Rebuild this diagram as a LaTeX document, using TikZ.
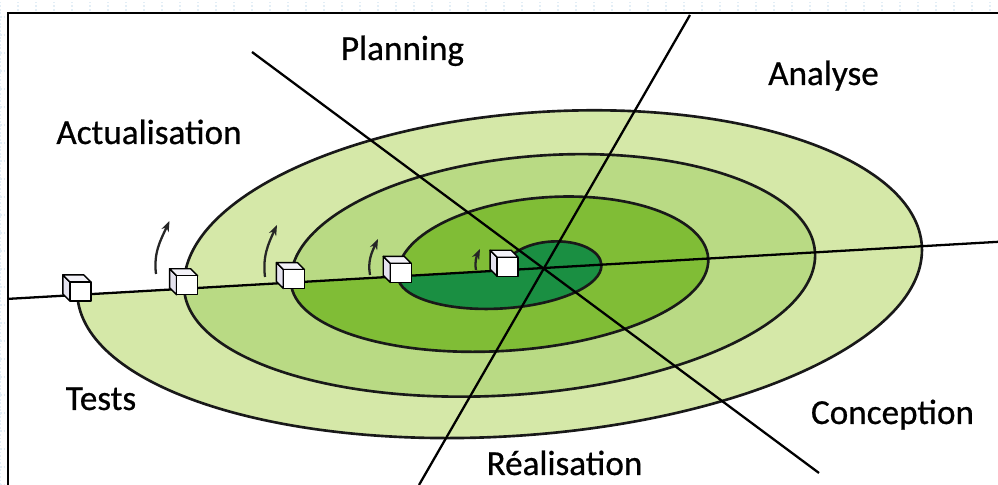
\documentclass[tikz,border=0pt]{standalone}
\usepackage{fontspec}
\setmainfont{Carlito}
\newfontfamily\phasefont{Carlito}[FakeBold=0.6]
\usetikzlibrary{arrows.meta}

\definecolor{ringA}{HTML}{D5E8A8}
\definecolor{ringB}{HTML}{B9DA84}
\definecolor{ringC}{HTML}{80BD36}
\definecolor{ringD}{HTML}{1A8F42}
\definecolor{gridblue}{HTML}{E3EEF6}
\definecolor{cubetop}{HTML}{F3F2F8}
\definecolor{cubeside}{HTML}{E4E2EE}

\begin{document}
\begin{tikzpicture}[
		axis/.style={line width=1.3pt, black},
		spiral/.style={line width=1.5pt, black!90},
		face/.style={draw=black, line width=0.8pt, fill=white, line join=round},
		turn/.style={line width=1.3pt, black!85, -{Stealth[length=6pt,width=4.5pt]}},
		phase/.style={font=\phasefont\fontsize{20}{24}\selectfont, anchor=base}
		]
		
		% Frame and background grid
		\useasboundingbox (0,0) rectangle (19.96,9.70);
		\draw[gridblue, line width=0.6pt, dash pattern=on 1pt off 1pt] (0,0) grid[step=0.36] (19.96,9.70);
		\fill[white] (0.166,0) rectangle (19.96,9.446);
		\draw[line width=1.2pt] (0.166,0) -- (0.166,9.446) -- (19.96,9.446);
		
		% Spiral rings, in the frame of the axis line
		\coordinate (O) at (10.88,4.34);
		\begin{scope}[shift={(O)}, rotate=3.3]
			\fill[ringA] (-7.21,0) arc[start angle=180, end angle=0, x radius=7.39, y radius=3.12]
				arc[start angle=0, end angle=-180, x radius=8.46, y radius=3.32] -- cycle;
			\fill[ringB] (-5.07,0) arc[start angle=180, end angle=0, x radius=5.25, y radius=2.25]
				arc[start angle=0, end angle=-180, x radius=6.32, y radius=2.5] -- cycle;
			\fill[ringC] (-2.93,0) arc[start angle=180, end angle=0, x radius=3.11, y radius=1.41]
				arc[start angle=0, end angle=-180, x radius=4.18, y radius=1.61] -- cycle;
			\fill[ringD] (-0.79,0) arc[start angle=180, end angle=0, x radius=0.97, y radius=0.52]
				arc[start angle=0, end angle=-180, x radius=2.04, y radius=0.76] -- cycle;
			
			% Draw spiral
			\draw[spiral] (-0.79,0)
				arc[start angle=180, end angle=0, x radius=0.97, y radius=0.52]
				arc[start angle=0, end angle=-180, x radius=2.04, y radius=0.76]
				arc[start angle=180, end angle=0, x radius=3.11, y radius=1.41]
				arc[start angle=0, end angle=-180, x radius=4.18, y radius=1.61]
				arc[start angle=180, end angle=0, x radius=5.25, y radius=2.25]
				arc[start angle=0, end angle=-180, x radius=6.32, y radius=2.5]
				arc[start angle=180, end angle=0, x radius=7.39, y radius=3.12]
				arc[start angle=0, end angle=-180, x radius=8.46, y radius=3.32];
			
			% Draw axis line
			\draw[axis] (-10.74,0) -- (9.095,0);
			
			% Turn points
			\coordinate (c1) at (-0.79,0);
			\coordinate (c2) at (-2.93,0);
			\coordinate (c3) at (-5.07,0);
			\coordinate (c4) at (-7.21,0);
			\coordinate (c5) at (-9.35,0);
		\end{scope}
		
		% Draw the two crossing axes
		\draw[axis] (5.04,8.66) -- (16.38,0.24);
		\draw[axis] (13.8,9.4) -- (8.38,0);
		
		% Draw turn arrows
		\draw[turn] (3.12,4.22) to[out=97,in=245] (3.39,5.28);
		\draw[turn] (5.30,4.16) to[out=97,in=245] (5.54,5.2);
		\draw[turn] (7.40,4.2) to[out=100,in=245] (7.56,4.92);
		\draw[turn] (9.52,4.3) to[out=100,in=245] (9.60,4.72);
		
		% Draw cubes
		\foreach \c in {c1,c2,c3,c4,c5} {
			\draw[face, fill=cubeside] ([shift={(-0.15,-0.12)}]\c) -- ++(0,0.38) -- ++(-0.14,0.14) -- ++(0,-0.38) -- cycle;
			\draw[face, fill=cubetop] ([shift={(-0.15,0.26)}]\c) -- ++(0.42,0) -- ++(-0.14,0.14) -- ++(-0.42,0) -- cycle;
			\draw[face] ([shift={(-0.15,-0.12)}]\c) rectangle ++(0.42,0.38);
		}
		
		% Add phase labels
		\node[phase] (planning) at (8.05,8.5) {Planning};
		\node[phase] (analyse) at (16.47,8.0) {Analyse};
		\node[phase] (actualisation) at (2.98,6.82) {Actualisation};
		\node[phase] (tests) at (2.02,1.5) {Tests};
		\node[phase] (conception) at (17.85,1.22) {Conception};
		\node[phase] (realisation) at (11.29,0.2) {Réalisation};
		
	\end{tikzpicture}
\end{document}
